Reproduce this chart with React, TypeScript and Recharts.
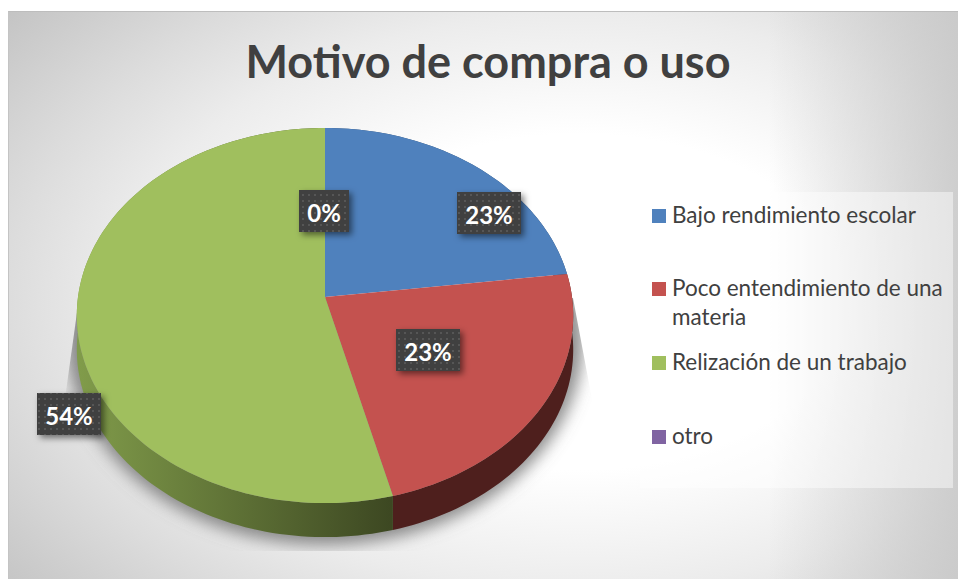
import React from "react";
import { PieChart, Pie, Legend } from "recharts";

const categories = ["Bajo rendimiento escolar", "Poco entendimiento de una materia", "Relización de un trabajo", "otro"];
const values = [23, 23, 54, 0];
const topColors = ["#4f81bd", "#c4524f", "#a0bf5e", "#8064a2"];
const sideFrom = ["#2f4d71", "#4e1f1d", "#809b4a", "#4d3c61"];
const sideTo = ["#2f4d71", "#4e1f1d", "#3d4822", "#4d3c61"];
const labelNudge = [[164, -84], [103, 53], [-256, 117], [-1, -86]];
const data = categories.map((name, i) => ({ name, value: values[i], fill: topColors[i] }));

const W = 958, H = 579, CX = 325, CY = 297, R = 247;
const K = -0.0987, SQUASH = 0.752, DEPTH = 34;
const FONT = "Lato, 'Open Sans', sans-serif";

const project = (cx: number, cy: number, r: number, deg: number, f = 1) => {
  const a = (deg * Math.PI) / 180;
  const u = f * Math.cos(a);
  const v = -f * Math.sin(a);
  const d = 1 + K * v;
  return [cx + (r * u) / d, cy + (r * SQUASH * v) / d];
};

const arcPoints = (p: any) => {
  const pts: number[][] = [];
  const n = Math.max(2, Math.ceil(Math.abs(p.endAngle - p.startAngle) / 1.5));
  for (let i = 0; i <= n; i++) {
    pts.push(project(p.cx, p.cy, p.outerRadius, p.startAngle + ((p.endAngle - p.startAngle) * i) / n));
  }
  return pts;
};

const Slice = (p: any) => {
  const idx = categories.indexOf(p.name);
  const pts = arcPoints(p);
  if (Math.abs(p.endAngle - p.startAngle) < 0.01) return <g />;
  const top = `M${p.cx},${p.cy} ` + pts.map((q) => `L${q[0]},${q[1]}`).join(" ") + " Z";
  const side =
    pts.map((q, i) => `${i ? "L" : "M"}${q[0]},${q[1]}`).join(" ") +
    " " +
    [...pts].reverse().map((q) => `L${q[0]},${q[1] + DEPTH}`).join(" ") +
    " Z";
  return (
    <g>
      <path d={side} fill={`url(#side${idx})`} />
      <path d={top} fill={p.fill} />
    </g>
  );
};

const renderLabel = (p: any) => {
  const i = p.index;
  const w = i === 3 ? 50 : 64;
  const h = 42;
  const x = p.cx + labelNudge[i][0];
  const y = p.cy + labelNudge[i][1];
  return (
    <g key={i}>
      <rect x={x - w / 2} y={y - h / 2} width={w} height={h} fill="#404040" filter="url(#labelShadow)" />
      <rect x={x - w / 2} y={y - h / 2} width={w} height={h} fill="url(#dots)" />
      <text
        x={x}
        y={y + 1}
        textAnchor="middle"
        dominantBaseline="central"
        fill="#ffffff"
        fontFamily={FONT}
        fontWeight={700}
        fontSize={24}
      >
        {Math.round(p.percent * 100)}%
      </text>
    </g>
  );
};

const LegendBox = ({ payload }: any) => (
  <div
    style={{
      width: 313,
      height: 296,
      background: "rgba(255,255,255,0.45)",
      position: "relative",
      fontFamily: FONT,
      fontSize: 22.5,
      lineHeight: "29px",
      color: "#404040",
    }}
  >
    {(payload || []).map((e: any, i: number) => (
      <div key={i} style={{ position: "absolute", left: 12, top: [8, 81, 155, 229][i], width: 298, display: "flex" }}>
        <span style={{ width: 14, height: 14, marginTop: 9, marginRight: 6, background: e.color, flex: "none" }} />
        <span>{e.value}</span>
      </div>
    ))}
  </div>
);

export default function App() {
  return (
    <div style={{ position: "absolute", left: 0, top: 0, width: W, height: H, overflow: "hidden", background: "#fff" }}>
      <div
        style={{
          position: "absolute",
          left: 8,
          top: 11,
          width: 950,
          height: 568,
          borderTop: "1px solid #bdbdbd",
          borderLeft: "1px solid #c4c4c4",
          boxSizing: "border-box",
          background:
            "linear-gradient(to right, rgba(200,200,200,0) 80%, rgba(200,200,200,0.85) 100%), radial-gradient(ellipse 640px 400px at 570px 290px, #ffffff 0%, #ffffff 42%, #ececec 72%, #dcdcdc 90%, #c4c4c4 115%)",
        }}
      />
      <svg width={W} height={H} style={{ position: "absolute", left: 0, top: 0 }}>
        <defs>
          <filter id="pieShadow" x="-20%" y="-20%" width="140%" height="140%">
            <feGaussianBlur stdDeviation="8" />
          </filter>
          <clipPath id="shadowClip">
            <polygon points="79,298 62,420 62,551 594,551 594,410 573,298" />
          </clipPath>
        </defs>
        <g clipPath="url(#shadowClip)">
          <ellipse cx={CX} cy={340} rx={258} ry={205} fill="#707070" fillOpacity={0.8} filter="url(#pieShadow)" />
        </g>
      </svg>
      <div style={{ position: "absolute", left: 0, top: 0 }}>
        <PieChart width={W} height={H} margin={{ top: 0, right: 0, bottom: 0, left: 0 }}>
          <defs>
            {sideFrom.map((c, i) => (
              <linearGradient key={i} id={`side${i}`} gradientUnits="userSpaceOnUse" x1={i === 2 ? 80 : 390} x2={i === 2 ? 390 : 573} y1={0} y2={0}>
                <stop offset="0" stopColor={c} />
                <stop offset="1" stopColor={sideTo[i]} />
              </linearGradient>
            ))}
            <pattern id="dots" width={6} height={6} patternUnits="userSpaceOnUse">
              <rect x={2} y={2} width={2} height={2} fill="#565656" />
            </pattern>
            <filter id="labelShadow" x="-30%" y="-30%" width="170%" height="170%">
              <feDropShadow dx={3} dy={3} stdDeviation={3} floodColor="#000" floodOpacity={0.5} />
            </filter>
          </defs>
          <text
            x={488}
            y={61}
            textAnchor="middle"
            dominantBaseline="central"
            fill="#404040"
            fontFamily={FONT}
            fontWeight={700}
            fontSize={45}
          >
            Motivo de compra o uso
          </text>
          <Pie
            data={data}
            dataKey="value"
            nameKey="name"
            cx={CX}
            cy={CY}
            outerRadius={R}
            startAngle={90}
            endAngle={-270}
            stroke="none"
            shape={Slice}
            label={renderLabel}
            labelLine={false}
            isAnimationActive={false}
          />
          <Legend
            content={<LegendBox />}
            layout="vertical"
            wrapperStyle={{ position: "absolute", left: 640, top: 192, width: 313, height: 296 }}
          />
        </PieChart>
      </div>
    </div>
  );
}
